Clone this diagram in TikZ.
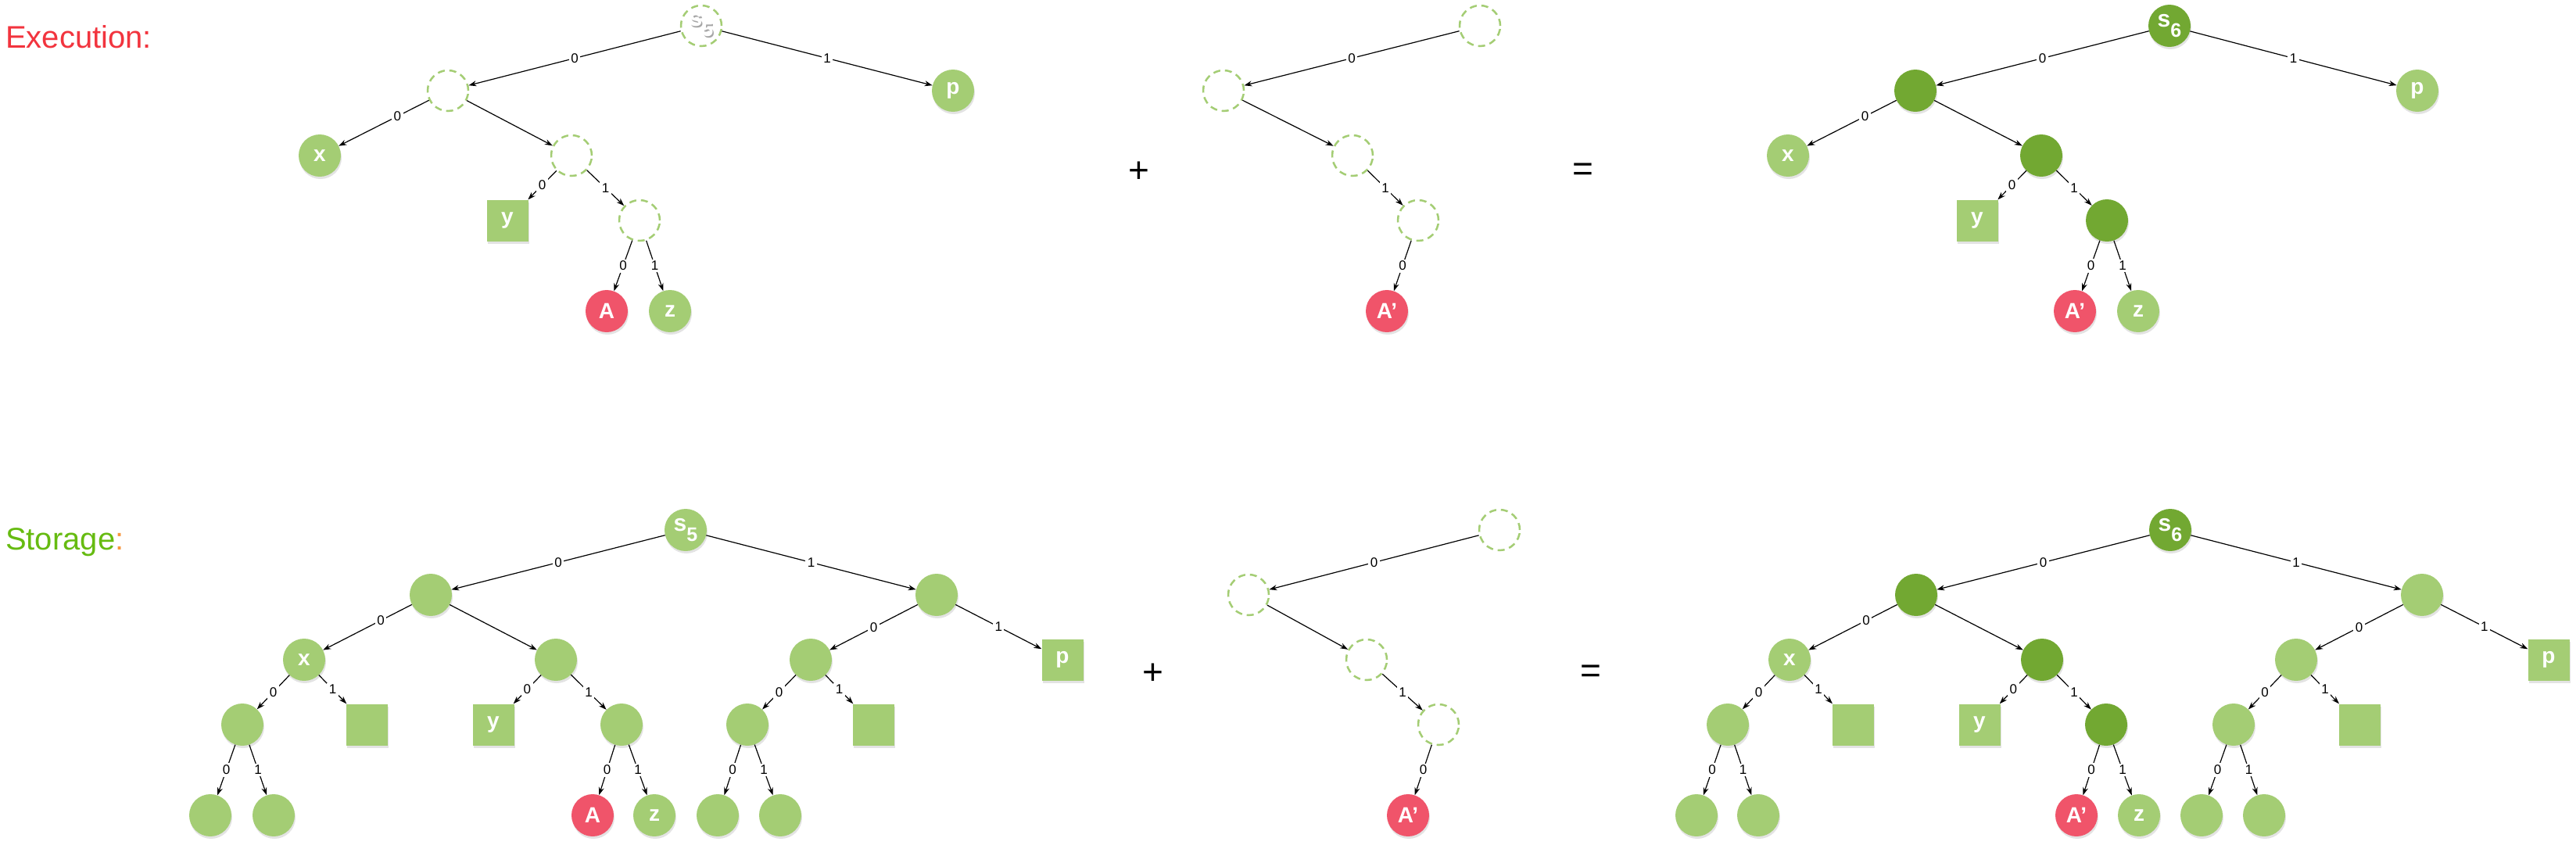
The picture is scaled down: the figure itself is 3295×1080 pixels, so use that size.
\documentclass[tikz,border=0pt]{standalone}
\usepackage{fontspec}
\setmainfont{Liberation Sans}
\usetikzlibrary{arrows.meta,shadows}
\definecolor{lgr}{RGB}{164,205,116}
\definecolor{dgr}{RGB}{114,168,50}
\definecolor{rdn}{RGB}{240,84,106}
\definecolor{exred}{RGB}{242,52,62}
\definecolor{stgreen}{RGB}{102,187,17}
\definecolor{storange}{RGB}{247,150,60}
\newcommand{\nfont}{\fontsize{28}{28}\selectfont\bfseries}
\newcommand{\lfont}{\fontsize{17}{17}\selectfont}
\newcommand{\bigfont}{\fontsize{40}{40}\selectfont}
\newcommand{\opfont}{\fontsize{46}{46}\selectfont}
\newcommand{\subd}[1]{\raisebox{-13pt}{\fontsize{25}{25}\selectfont #1}}
\newcommand{\sname}[1]{{\fontsize{30}{30}\selectfont s}\subd{#1}}
\newcommand{\shtext}[1]{\makebox[0pt][l]{\hspace{1.5pt}\raisebox{-1.5pt}{\color{black!35}#1}}{\color{white}#1}}
\begin{document}
\begin{tikzpicture}[x=1pt,y=-1pt,
  nbase/.style={minimum size=54pt, inner sep=0pt, text=white, font=\nfont},
  shad/.style={drop shadow={opacity=.22, shadow xshift=1pt, shadow yshift=-3pt}},
  lnode/.style={nbase, circle, fill=lgr, shad},
  dnode/.style={nbase, circle, fill=dgr, shad},
  rnode/.style={nbase, circle, fill=rdn, shad},
  snode/.style={nbase, rectangle, fill=lgr, minimum size=53pt, shad},
  enode/.style={nbase, circle, draw=lgr, line width=2.5pt, dash pattern=on 9pt off 6pt, minimum size=52pt},
  conn/.style={draw, -{Stealth[length=10pt,width=7pt]}, line width=1.2pt},
  lbl/.style={fill=white, inner sep=2.5pt, font=\lfont, text=black},
  opn/.style={font=\opfont, inner sep=0pt}
]
\fill[white] (0,0) rectangle (3295,1080);
\useasboundingbox (0,0) rectangle (3295,1080);

% titles
\node[anchor=base west, inner sep=0pt, font=\bigfont, text=exred] (tExec) at (7,61) {Execution:};
\node[anchor=base west, inner sep=0pt, font=\bigfont] (tStor) at (7,703) {\color{stgreen}Storage\color{storange}:};

% ---------- Execution: current tree ----------
\node[enode, font=\nfont] (eR) at (897,33) {\shtext{\sname{5}}};
\node[enode] (eL) at (573,116) {};
\node[lnode] (eP) at (1219,116) {p};
\node[lnode] (eX) at (409,199) {x};
\node[enode] (eM) at (731,199) {};
\node[snode] (eY) at (649,282) {y};
\node[enode] (eD) at (818,282) {};
\node[rnode] (eA) at (776,398) {A};
\node[lnode] (eZ) at (857,398) {z};
\draw[conn] (eR) -- node[lbl]{0} (eL);
\draw[conn] (eR) -- node[lbl]{1} (eP);
\draw[conn] (eL) -- node[lbl,pos=.35]{0} (eX);
\draw[conn] (eL) -- (eM);
\draw[conn] (eM) -- node[lbl]{0} (eY);
\draw[conn] (eM) -- node[lbl]{1} (eD);
\draw[conn] (eD) -- node[lbl]{0} (eA);
\draw[conn] (eD) -- node[lbl]{1} (eZ);

\node[opn] (ePlus) at (1457,220) {+};

% ---------- Execution: delta ----------
\node[enode] (dR) at (1893,33) {};
\node[enode] (dL) at (1565,116) {};
\node[enode] (dM) at (1730,199) {};
\node[enode] (dD) at (1814,282) {};
\node[rnode] (dA) at (1774,398) {A’};
\draw[conn] (dR) -- node[lbl]{0} (dL);
\draw[conn] (dL) -- (dM);
\draw[conn] (dM) -- node[lbl]{1} (dD);
\draw[conn] (dD) -- node[lbl]{0} (dA);

\node[opn] (eEq) at (2025,220) {=};

% ---------- Execution: result ----------
\node[dnode] (cR) at (2775,33) {\sname{6}};
\node[dnode] (cL) at (2450,116) {};
\node[lnode] (cP) at (3092,116) {p};
\node[lnode] (cX) at (2287,199) {x};
\node[dnode] (cM) at (2611,199) {};
\node[snode] (cY) at (2529,282) {y};
\node[dnode] (cD) at (2695,282) {};
\node[rnode] (cA) at (2654,398) {A’};
\node[lnode] (cZ) at (2735,398) {z};
\draw[conn] (cR) -- node[lbl]{0} (cL);
\draw[conn] (cR) -- node[lbl]{1} (cP);
\draw[conn] (cL) -- node[lbl,pos=.35]{0} (cX);
\draw[conn] (cL) -- (cM);
\draw[conn] (cM) -- node[lbl]{0} (cY);
\draw[conn] (cM) -- node[lbl]{1} (cD);
\draw[conn] (cD) -- node[lbl]{0} (cA);
\draw[conn] (cD) -- node[lbl]{1} (cZ);

% ---------- Storage: current tree ----------
\node[lnode] (sR) at (877,678) {\sname{5}};
\node[lnode] (sL) at (551,761) {};
\node[lnode] (sRR) at (1198,761) {};
\node[lnode] (sX) at (389,844) {x};
\node[lnode] (sM) at (711,844) {};
\node[lnode] (sN) at (1037,844) {};
\node[snode] (sP) at (1359,844) {p};
\node[lnode] (s3a) at (310,927) {};
\node[snode] (s3b) at (469,927) {};
\node[snode] (sY) at (631,927) {y};
\node[lnode] (s3d) at (795,927) {};
\node[lnode] (s3e) at (956,927) {};
\node[snode] (s3f) at (1117,927) {};
\node[lnode] (s4a) at (269,1043) {};
\node[lnode] (s4b) at (350,1043) {};
\node[rnode] (sA) at (758,1043) {A};
\node[lnode] (sZ) at (837,1043) {z};
\node[lnode] (s4e) at (918,1043) {};
\node[lnode] (s4f) at (998,1043) {};
\draw[conn] (sR) -- node[lbl]{0} (sL);
\draw[conn] (sR) -- node[lbl]{1} (sRR);
\draw[conn] (sL) -- node[lbl,pos=.35]{0} (sX);
\draw[conn] (sL) -- (sM);
\draw[conn] (sRR) -- node[lbl]{0} (sN);
\draw[conn] (sRR) -- node[lbl]{1} (sP);
\draw[conn] (sX) -- node[lbl]{0} (s3a);
\draw[conn] (sX) -- node[lbl]{1} (s3b);
\draw[conn] (sM) -- node[lbl]{0} (sY);
\draw[conn] (sM) -- node[lbl]{1} (s3d);
\draw[conn] (sN) -- node[lbl]{0} (s3e);
\draw[conn] (sN) -- node[lbl]{1} (s3f);
\draw[conn] (s3a) -- node[lbl]{0} (s4a);
\draw[conn] (s3a) -- node[lbl]{1} (s4b);
\draw[conn] (s3d) -- node[lbl]{0} (sA);
\draw[conn] (s3d) -- node[lbl]{1} (sZ);
\draw[conn] (s3e) -- node[lbl]{0} (s4e);
\draw[conn] (s3e) -- node[lbl]{1} (s4f);

\node[opn] (sPlus) at (1475,862) {+};

% ---------- Storage: delta ----------
\node[enode] (tR) at (1918,678) {};
\node[enode] (tL) at (1597,761) {};
\node[enode] (tM) at (1748,844) {};
\node[enode] (tD) at (1840,927) {};
\node[rnode] (tA) at (1801,1043) {A’};
\draw[conn] (tR) -- node[lbl]{0} (tL);
\draw[conn] (tL) -- (tM);
\draw[conn] (tM) -- node[lbl]{1} (tD);
\draw[conn] (tD) -- node[lbl]{0} (tA);

\node[opn] (sEq) at (2035,862) {=};

% ---------- Storage: result ----------
\node[dnode] (uR) at (2776,678) {\sname{6}};
\node[dnode] (uL) at (2451,761) {};
\node[lnode] (uRR) at (3098,761) {};
\node[lnode] (uX) at (2289,844) {x};
\node[dnode] (uM) at (2612,844) {};
\node[lnode] (uN) at (2937,844) {};
\node[snode] (uP) at (3260,844) {p};
\node[lnode] (u3a) at (2210,927) {};
\node[snode] (u3b) at (2370,927) {};
\node[snode] (uY) at (2532,927) {y};
\node[dnode] (u3d) at (2694,927) {};
\node[lnode] (u3e) at (2857,927) {};
\node[snode] (u3f) at (3018,927) {};
\node[lnode] (u4a) at (2170,1043) {};
\node[lnode] (u4b) at (2249,1043) {};
\node[rnode] (uA) at (2656,1043) {A’};
\node[lnode] (uZ) at (2736,1043) {z};
\node[lnode] (u4e) at (2816,1043) {};
\node[lnode] (u4f) at (2896,1043) {};
\draw[conn] (uR) -- node[lbl]{0} (uL);
\draw[conn] (uR) -- node[lbl]{1} (uRR);
\draw[conn] (uL) -- node[lbl,pos=.35]{0} (uX);
\draw[conn] (uL) -- (uM);
\draw[conn] (uRR) -- node[lbl]{0} (uN);
\draw[conn] (uRR) -- node[lbl]{1} (uP);
\draw[conn] (uX) -- node[lbl]{0} (u3a);
\draw[conn] (uX) -- node[lbl]{1} (u3b);
\draw[conn] (uM) -- node[lbl]{0} (uY);
\draw[conn] (uM) -- node[lbl]{1} (u3d);
\draw[conn] (uN) -- node[lbl]{0} (u3e);
\draw[conn] (uN) -- node[lbl]{1} (u3f);
\draw[conn] (u3a) -- node[lbl]{0} (u4a);
\draw[conn] (u3a) -- node[lbl]{1} (u4b);
\draw[conn] (u3d) -- node[lbl]{0} (uA);
\draw[conn] (u3d) -- node[lbl]{1} (uZ);
\draw[conn] (u3e) -- node[lbl]{0} (u4e);
\draw[conn] (u3e) -- node[lbl]{1} (u4f);
\end{tikzpicture}
\end{document}
